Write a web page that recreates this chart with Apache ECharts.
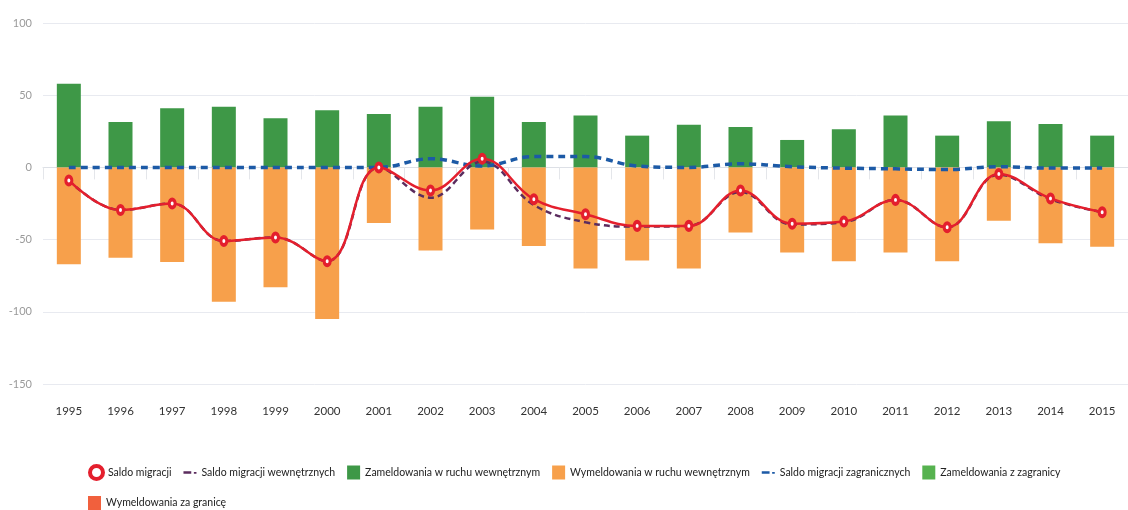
<!DOCTYPE html>
<html><head><meta charset="utf-8">
<script src="https://cdn.jsdelivr.net/npm/echarts@6/dist/echarts.min.js"></script>
<style>html,body{margin:0;padding:0;background:#fff}#c{width:1128px;height:510px}</style>
</head><body><div id="c"></div>
<script>
const years = ['1995','1996','1997','1998','1999','2000','2001','2002','2003','2004','2005','2006','2007','2008','2009','2010','2011','2012','2013','2014','2015'];
const yTicks = [-150, -100, -50, 0, 50, 100];
const saldo = [-9,-29.5,-25,-51,-48.5,-65,0,-16,6,-22,-32.5,-40.5,-40.5,-16,-39,-37.5,-22.5,-41.5,-4.5,-21.5,-31];
const saldoWewn = [-9,-29.5,-25,-51,-48.5,-65,0,-21,4,-26,-38,-41,-40.5,-17,-39.5,-38,-22.5,-41.5,-5,-22,-31];
const zamWewn = [58,31.5,41,42,34,39.5,37,42,49,31.5,36,22,29.5,28,19,26.5,36,22,32,30,22];
const wymWewn = [-67,-62.5,-65.5,-93,-83,-105,-38.5,-57.5,-43,-54.5,-70,-64.5,-70,-45,-59,-65,-59,-65,-37,-52.5,-55];
const saldoZagr = [0,0,0,0,0,0,0,6,1,7.5,7.5,1,0,2.5,0.5,-0.5,-1,-1.5,0.5,-0.5,-0.5];
const zamZagr = [];
const wymZagr = [];

const C = {red:'#e41f2d', purple:'#5b2c5e', green:'#3e9847', orange:'#f7a04b', blue:'#1c5aa6', green2:'#56b24f', red2:'#f1603d'};
const dashIcon = 'path://M0,5 L9,5 L9,8 L0,8 Z M12,6 L15,6 L15,8 L12,8 Z';
const font = "Lato, 'Liberation Sans', sans-serif";
const legendText = {fontFamily:font, fontSize:10.5, color:'#222'};

const chart = echarts.init(document.getElementById('c'), null, {renderer:'canvas'});
chart.setOption({
  animation:false,
  backgroundColor:'#fff',
  grid:{left:43, top:23, width:1097, height:361},
  legend:[{
    left:83, top:459, width:1120, itemGap:12, itemWidth:13, itemHeight:14,
    textStyle:legendText,
    data:[
      {name:'Saldo migracji', icon:'circle', itemStyle:{color:'#fff', borderColor:C.red, borderWidth:4}},
      {name:'Saldo migracji wewnętrznych', icon:dashIcon},
      {name:'Zameldowania w ruchu wewnętrznym', icon:'rect'},
      {name:'Wymeldowania w ruchu wewnętrznym', icon:'rect'},
      {name:'Saldo migracji zagranicznych', icon:dashIcon},
      {name:'Zameldowania z zagranicy', icon:'rect'}
    ]
  },{
    left:83, top:491, width:1100, itemGap:12, itemWidth:13, itemHeight:14,
    textStyle:legendText,
    data:[{name:'Wymeldowania za granicę', icon:'rect'}]
  }],
  xAxis:{
    type:'category', data:years, boundaryGap:true,
    axisLine:{lineStyle:{color:'#dde0e6'}},
    axisTick:{show:true, length:12, lineStyle:{color:'#e4e6ea'}},
    axisLabel:{margin:21, color:'#333', fontFamily:font, fontSize:11.5}
  },
  yAxis:{
    type:'value', min:yTicks[0], max:yTicks[yTicks.length-1], interval:50,
    axisLine:{show:false}, axisTick:{show:false},
    splitLine:{lineStyle:{color:'#e8eaf0'}},
    axisLabel:{margin:11, color:'#9a9a9a', fontFamily:font, fontSize:11}
  },
  series:[
    {name:'Zameldowania w ruchu wewnętrznym', type:'bar', stack:'b', barWidth:24, data:zamWewn, itemStyle:{color:C.green}, z:1},
    {name:'Wymeldowania w ruchu wewnętrznym', type:'bar', stack:'b', barWidth:24, data:wymWewn, itemStyle:{color:C.orange}, z:1},
    {name:'Zameldowania z zagranicy', type:'bar', stack:'b', barWidth:24, data:zamZagr, itemStyle:{color:C.green2}, z:1},
    {name:'Wymeldowania za granicę', type:'bar', stack:'b', barWidth:24, data:wymZagr, itemStyle:{color:C.red2}, z:1},
    {name:'Saldo migracji zagranicznych', type:'line', data:saldoZagr, smooth:0.4, symbol:'none',
      lineStyle:{color:C.blue, width:3.5, type:[7,5]}, itemStyle:{color:C.blue}, z:3},
    {name:'Saldo migracji wewnętrznych', type:'line', data:saldoWewn, smooth:0.4, symbol:'none',
      lineStyle:{color:C.purple, width:2.5, type:[6,4]}, itemStyle:{color:C.purple}, z:4},
    {name:'Saldo migracji', type:'line', data:saldo, smooth:0.4, symbol:'circle', symbolSize:[6,8], showAllSymbol:true,
      lineStyle:{color:C.red, width:2.5}, itemStyle:{color:'#fff', borderColor:C.red, borderWidth:3.5}, z:5}
  ]
});
</script></body></html>
